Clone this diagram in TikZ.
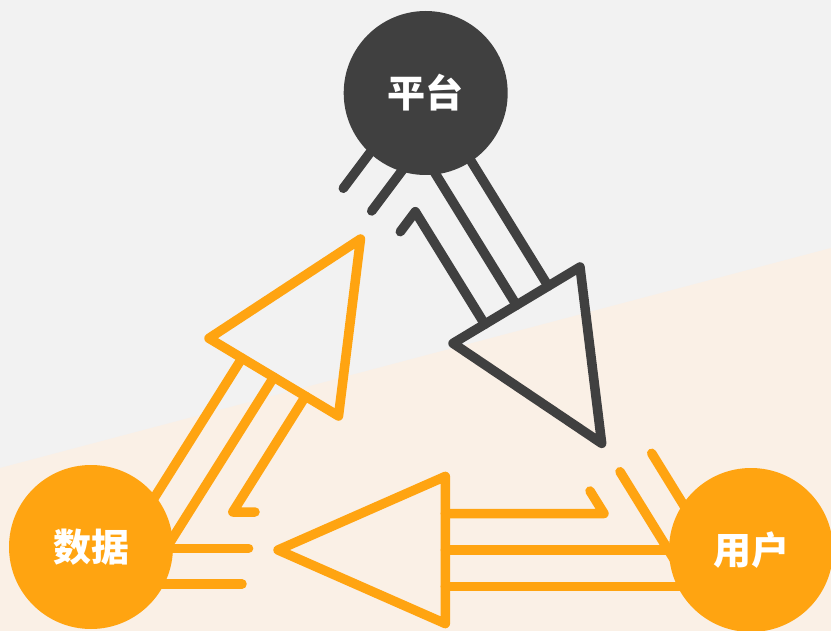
\documentclass[tikz,border=0pt]{standalone}
\usepackage{fontspec}
\newfontfamily\cjk{Noto Sans CJK SC}
\definecolor{dk}{RGB}{64,64,64}
\definecolor{og}{RGB}{255,164,17}
\definecolor{bgg}{RGB}{242,242,242}
\definecolor{bgp}{RGB}{250,240,230}
\begin{document}
\begin{tikzpicture}[x=1pt,y=-1pt,
  line cap=round, line join=round,
  hub/.style={circle, inner sep=0pt, minimum size=164pt, text=white,
    font=\cjk\bfseries\fontsize{38}{38}\selectfont},
  darkline/.style={draw=dk, line width=9.5pt},
  orangeline/.style={draw=og, line width=9.5pt}]
% background
\fill[bgg] (0,0) rectangle (831,631);
\fill[bgp] (0,468) -- (831,248) -- (831,631) -- (0,631) -- cycle;
\useasboundingbox (0,0) rectangle (831,631);

% ---- dark arrow: platform -> user
\coordinate (dA) at (453,343.3);
\coordinate (dB) at (580,267);
\coordinate (dT) at (601.7,443.4);
\draw[darkline] (dA) -- (dB) -- (dT) -- cycle;
\coordinate (dR0) at (548.2,286.1); \coordinate (dR1) at (443.2,115.9);
\coordinate (dM0) at (516.5,305.2); \coordinate (dM1) at (411.5,135);
\coordinate (dH0) at (484.8,324.3); \coordinate (dH1) at (415.3,211.7); \coordinate (dH2) at (400.3,231.7);
\draw[darkline] (dR0) -- (dR1);
\draw[darkline] (dM0) -- (dM1);
\draw[darkline] (dH0) -- (dH1) -- (dH2);
% stubs at platform
\coordinate (ds1a) at (343.3,188.3); \coordinate (ds1b) at (385.3,132.3);
\coordinate (ds2a) at (371.7,211);   \coordinate (ds2b) at (413.7,155);
\draw[darkline] (ds1a) -- (ds1b);
\draw[darkline] (ds2a) -- (ds2b);

% ---- orange arrow: data -> platform
\coordinate (oA) at (209,338.3);
\coordinate (oT) at (360.5,239);
\coordinate (oB) at (338.5,416);
\draw[orangeline] (oA) -- (oT) -- (oB) -- cycle;
\coordinate (o10) at (242,358.1);     \coordinate (o11) at (135.6,527.5);
\coordinate (o20) at (273.75,377.15); \coordinate (o21) at (156.7,563.5);
\coordinate (o30) at (305.5,396.2);   \coordinate (o31) at (232.8,512); \coordinate (o32) at (255,512);
\draw[orangeline] (o10) -- (o11);
\draw[orangeline] (o20) -- (o21);
\draw[orangeline] (o30) -- (o31) -- (o32);
% stubs at data
\coordinate (os1a) at (91,548.3); \coordinate (os1b) at (248.6,548.3);
\coordinate (os2a) at (91,584);   \coordinate (os2b) at (242,584);
\draw[orangeline] (os1a) -- (os1b);
\draw[orangeline] (os2a) -- (os2b);

% ---- orange arrow: user -> data
\coordinate (lT) at (278,550);
\coordinate (lA) at (445.3,476.4);
\coordinate (lB) at (445.3,623.6);
\draw[orangeline] (lT) -- (lA) -- (lB) -- cycle;
\coordinate (l10) at (445.3,513.5); \coordinate (l11) at (604,513.5); \coordinate (l12) at (590,491);
\coordinate (l20) at (445.3,550);   \coordinate (l21) at (751,550);
\coordinate (l30) at (445.3,586.5); \coordinate (l31) at (751,586.5);
\draw[orangeline] (l10) -- (l11) -- (l12);
\draw[orangeline] (l20) -- (l21);
\draw[orangeline] (l30) -- (l31);
% stubs at user
\coordinate (us1a) at (620,471.7);   \coordinate (us1b) at (683,573.8);
\coordinate (us2a) at (651.7,453.3); \coordinate (us2b) at (709.5,547.1);
\draw[orangeline] (us1a) -- (us1b);
\draw[orangeline] (us2a) -- (us2b);

% ---- hubs
\node[hub, fill=dk] (plat) at (425.7,93) {平台};
\node[hub, fill=og] (data) at (91,547) {数据};
\node[hub, fill=og] (user) at (751,550) {用户};
\end{tikzpicture}
\end{document}
